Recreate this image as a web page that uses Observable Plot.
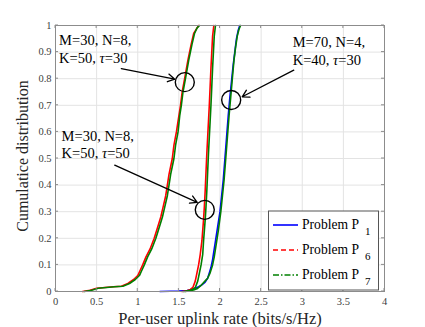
<!DOCTYPE html>
<html><head><meta charset="utf-8">
<script src="https://cdn.jsdelivr.net/npm/d3@7"></script>
<script src="https://cdn.jsdelivr.net/npm/@observablehq/plot@0.6"></script>
<style>
body{margin:0;background:#fff}
#chart svg, #chart svg text { font-family: "Liberation Serif", "DejaVu Serif", serif !important; }
</style>
</head><body><div id="chart"></div>
<script>
const xTicks = [0, 0.5, 1, 1.5, 2, 2.5, 3, 3.5, 4];
const yTicks = [0, 0.1, 0.2, 0.3, 0.4, 0.5, 0.6, 0.7, 0.8, 0.9, 1];

// M=30, N=8, K=50, tau=30
const a6x = [0.33,0.42,0.50,0.60,0.70,0.80,0.88,0.95,1.00,1.03,1.06,1.10,1.15,1.20,1.24,1.28,1.31,1.34,1.36,1.38,1.40,1.42,1.44,1.47,1.50,1.52,1.54,1.57,1.61,1.65,1.68,1.72,1.74];
const a6y = [0,0.005,0.012,0.015,0.018,0.02,0.03,0.045,0.06,0.08,0.10,0.13,0.16,0.20,0.24,0.28,0.32,0.36,0.40,0.44,0.47,0.50,0.55,0.60,0.66,0.70,0.75,0.80,0.87,0.93,0.97,0.99,1];
const a7x = [0.35,0.44,0.52,0.62,0.72,0.82,0.90,0.97,1.02,1.05,1.08,1.12,1.17,1.22,1.26,1.30,1.33,1.36,1.38,1.40,1.42,1.44,1.46,1.49,1.51,1.53,1.55,1.58,1.62,1.66,1.69,1.72,1.75];
const a7y = a6y;

// M=30, N=8, K=50, tau=50
const b6x = [1.54,1.60,1.64,1.67,1.70,1.72,1.74,1.76,1.78,1.79,1.80,1.81,1.82,1.83,1.84,1.85,1.86,1.87,1.88,1.89,1.90,1.91,1.925];
const b6y = [0,0.003,0.008,0.015,0.04,0.07,0.10,0.14,0.19,0.23,0.27,0.32,0.38,0.45,0.52,0.58,0.64,0.70,0.77,0.84,0.90,0.96,1];
const b7x = [1.56,1.62,1.67,1.70,1.73,1.75,1.77,1.79,1.80,1.81,1.82,1.83,1.84,1.85,1.86,1.87,1.88,1.89,1.90,1.91,1.92,1.93,1.945];
const b7y = b6y;

// M=70, N=4, K=40, tau=30
const c1x = [1.27,1.40,1.50,1.60,1.66,1.70,1.74,1.78,1.82,1.85,1.87,1.89,1.91,1.94,1.97,2.00,2.02,2.04,2.06,2.08,2.10,2.12,2.14,2.16,2.18,2.20,2.22,2.24];
const c1y = [0,0.001,0.002,0.004,0.008,0.012,0.018,0.025,0.035,0.05,0.07,0.09,0.12,0.18,0.24,0.30,0.36,0.42,0.50,0.58,0.66,0.73,0.79,0.85,0.90,0.95,0.98,1];
const c7x = [1.58,1.63,1.68,1.72,1.76,1.79,1.82,1.85,1.88,1.91,1.93,1.95,1.98,2.01,2.03,2.05,2.07,2.09,2.11,2.13,2.15,2.17,2.19,2.21,2.23,2.25];
const c7y = [0,0.003,0.006,0.01,0.02,0.03,0.04,0.05,0.07,0.10,0.13,0.17,0.23,0.30,0.36,0.42,0.50,0.58,0.66,0.73,0.80,0.87,0.92,0.96,0.985,1];

const seriesNames = ["Problem P", "Problem P", "Problem P"];
const seriesSubs = ["1", "6", "7"];
const seriesColors = ["#0000ff", "#ff0000", "#008000"];

// annotations (data units)
const circleX = [1.572, 2.136, 1.815];
const circleY = [0.787, 0.72, 0.307];
const arrowX1 = [0.80, 2.897, 0.72];
const arrowY1 = [0.838, 0.832, 0.475];
const arrowX2 = [1.45, 2.27, 1.723];
const arrowY2 = [0.798, 0.732, 0.335];
const labelX = [0.05, 2.89, 0.08];
const labelY1 = [0.9425, 0.935, 0.582];
const labelY2 = [0.875, 0.867, 0.518];
const labelLine1 = ["M=30, N=8,", "M=70, N=4,", "M=30, N=8,"];
const labelLine2a = ["K=50, ", "K=40, ", "K=50, "];
const labelLine2b = ["=30", "=30", "=50"];

// ---- build tables ----
function pts(xs, ys, s, g) { return xs.map((x, i) => ({x, y: ys[i], s, g})); }
const lines = [
  ...pts(c1x, c1y, 0, "c1"),
  ...pts(a6x, a6y, 1, "a6"), ...pts(b6x, b6y, 1, "b6"),
  ...pts(a7x, a7y, 2, "a7"), ...pts(b7x, b7y, 2, "b7"), ...pts(c7x, c7y, 2, "c7")
];
const circles = circleX.map((x, i) => ({x, y: circleY[i]}));
const arrows = arrowX1.map((x, i) => ({x1: x, y1: arrowY1[i], x2: arrowX2[i], y2: arrowY2[i]}));

const font = "Liberation Serif";
const plot = Plot.plot({
  width: 425, height: 327,
  marginLeft: 55, marginRight: 41, marginTop: 25, marginBottom: 36,
  x: {domain: [0, 4]},
  y: {domain: [0, 1]},
  style: {background: "#fff", overflow: "visible"},
  marks: [
    Plot.gridX(xTicks, {stroke: "#e3e3e3", strokeOpacity: 1}),
    Plot.gridY(yTicks, {stroke: "#e3e3e3", strokeOpacity: 1}),
    Plot.axisX(xTicks, {tickSize: 0, tickPadding: 6, fontSize: 10.5, fill: "#404040", label: null, tickFormat: d => String(d)}),
    Plot.axisY(yTicks, {tickSize: 0, tickPadding: 4, fontSize: 10.5, fill: "#404040", label: null, tickFormat: d => String(d)}),
    Plot.line(lines.filter(d => d.s === 0), {x: "x", y: "y", z: "g", stroke: seriesColors[0], strokeWidth: 1.6}),
    Plot.line(lines.filter(d => d.s === 1), {x: "x", y: "y", z: "g", stroke: seriesColors[1], strokeWidth: 1.6}),
    Plot.line(lines.filter(d => d.s === 2), {x: "x", y: "y", z: "g", stroke: seriesColors[2], strokeWidth: 1.6}),
    Plot.arrow(arrows, {x1: "x1", y1: "y1", x2: "x2", y2: "y2", stroke: "#000", strokeWidth: 1.3, headLength: 9, bend: 0}),
    Plot.dot(circles, {x: "x", y: "y", r: 9.5, stroke: "#000", strokeWidth: 1.4, fill: "none"}),
    Plot.frame({stroke: "#8c8c8c"})
  ]
});
document.getElementById("chart").appendChild(plot);

const svg = d3.select(plot);
const sx = plot.scale("x"), sy = plot.scale("y");

// inward tick marks on all four sides
const tk = svg.append("g").attr("stroke", "#8c8c8c").attr("stroke-width", 1);
xTicks.forEach(v => {
  const px = sx.apply(v);
  tk.append("line").attr("x1", px).attr("x2", px).attr("y1", sy.apply(0)).attr("y2", sy.apply(0) - 3);
  tk.append("line").attr("x1", px).attr("x2", px).attr("y1", sy.apply(1)).attr("y2", sy.apply(1) + 3);
});
yTicks.forEach(v => {
  const py = sy.apply(v);
  tk.append("line").attr("y1", py).attr("y2", py).attr("x1", sx.apply(0)).attr("x2", sx.apply(0) + 3);
  tk.append("line").attr("y1", py).attr("y2", py).attr("x1", sx.apply(4)).attr("x2", sx.apply(4) - 3);
});

// annotation labels with italic tau
const ann = svg.append("g").attr("font-family", font).attr("font-size", 14.5).attr("fill", "#000").attr("text-anchor", "start");
labelX.forEach((x, i) => {
  ann.append("text").attr("x", sx.apply(x)).attr("y", sy.apply(labelY1[i])).attr("dy", "0.35em").text(labelLine1[i]);
  const t = ann.append("text").attr("x", sx.apply(x)).attr("y", sy.apply(labelY2[i])).attr("dy", "0.35em");
  t.append("tspan").text(labelLine2a[i]);
  t.append("tspan").attr("font-style", "italic").text("τ");
  t.append("tspan").text(labelLine2b[i]);
});

// axis titles
svg.append("text").attr("x", 220).attr("y", 318).attr("text-anchor", "middle").attr("dy", "0.35em")
  .attr("font-family", font).attr("font-size", 16.5).attr("fill", "#262626").text("Per-user uplink rate (bits/s/Hz)");
svg.append("text").attr("transform", "translate(22,156) rotate(-90)").attr("text-anchor", "middle").attr("dy", "0.35em")
  .attr("font-family", font).attr("font-size", 16).attr("fill", "#262626").text("Cumulatice distribution");

// legend
const lg = svg.append("g").attr("font-family", font).attr("font-size", 13.6).attr("text-anchor", "start");
lg.append("rect").attr("x", 268.5).attr("y", 211).attr("width", 110).attr("height", 79)
  .attr("fill", "#fff").attr("stroke", "#555").attr("stroke-width", 1);
const dashes = [null, "5,3", "6,2,1.5,2"];
seriesNames.forEach((name, i) => {
  const y = 225 + i * 25;
  lg.append("line").attr("x1", 273).attr("x2", 298).attr("y1", y).attr("y2", y)
    .attr("stroke", seriesColors[i]).attr("stroke-width", 1.6).attr("stroke-dasharray", dashes[i]);
  const t = lg.append("text").attr("x", 302).attr("y", y).attr("dy", "0.3em").attr("fill", "#000");
  t.append("tspan").text(name);
  t.append("tspan").attr("dx", "6").attr("dy", "6").attr("font-size", 11).text(seriesSubs[i]);
});
</script></body></html>
